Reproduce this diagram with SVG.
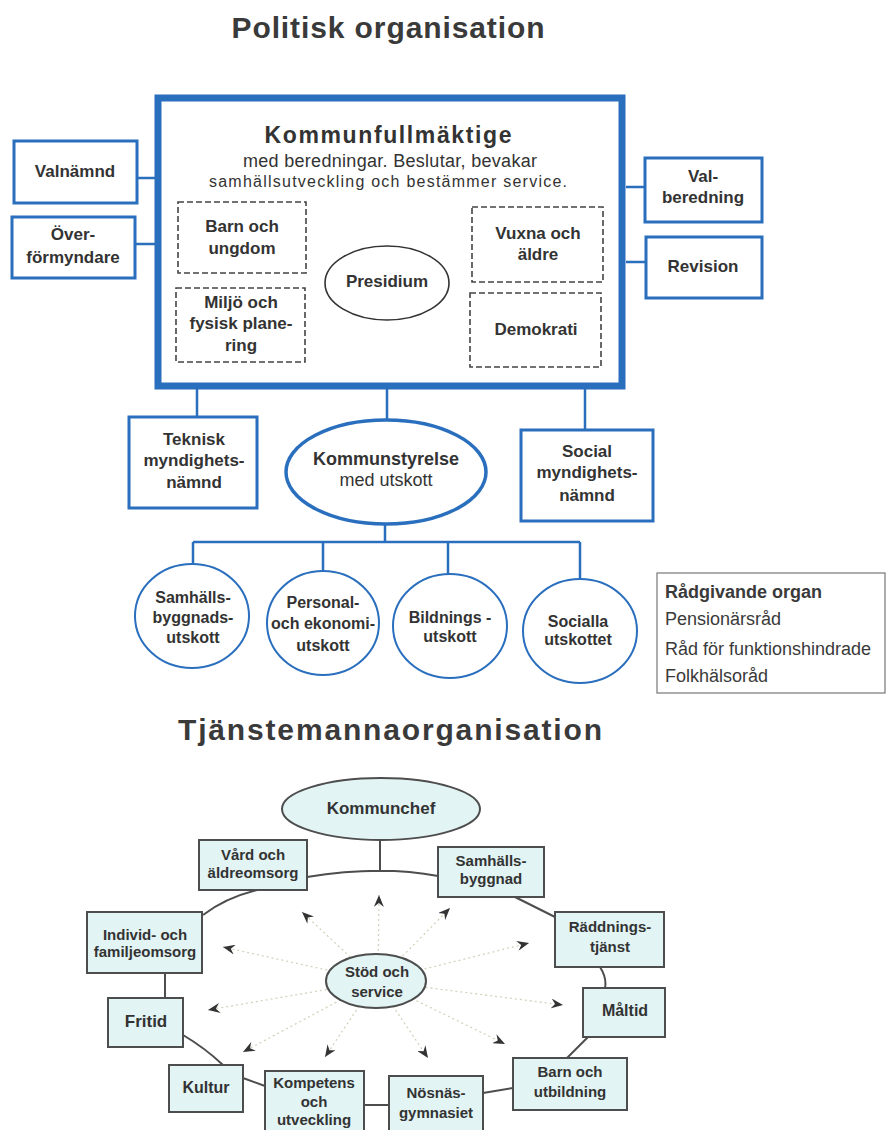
<svg xmlns="http://www.w3.org/2000/svg" width="886" height="1130" viewBox="0 0 886 1130">
<defs>
<style>
text{font-family:"Liberation Sans",Arial,sans-serif;fill:#333;text-anchor:middle}
.title{font-size:30px;font-weight:bold;fill:#3a3a3a}
.b17{font-size:17px;font-weight:bold}
.b16{font-size:16px;font-weight:bold}
.b15{font-size:15px;font-weight:bold}
.r18{font-size:18px}
.blue{fill:#fff;stroke:#2a6fbe;stroke-width:3}
.bline{fill:none;stroke:#2a6fbe;stroke-width:2.5}
.dash{fill:#fff;stroke:#444;stroke-width:1.6;stroke-dasharray:6 3}
.cbox{fill:#e2f4f4;stroke:#4d4d4d;stroke-width:2}
.ring{fill:none;stroke:#4d4d4d;stroke-width:2}
.arr{stroke:#d3d3bd;stroke-width:1.3;stroke-dasharray:2 3;marker-end:url(#ah)}
.adv{text-anchor:start;font-size:18px;fill:#3a3a3a}
</style>
<marker id="ah" markerUnits="userSpaceOnUse" markerWidth="13" markerHeight="10" refX="12" refY="5" orient="auto">
<path d="M0,0 L12,5 L0,10 L4,5 z" fill="#333"/>
</marker>
</defs>
<rect width="886" height="1130" fill="#fff"/>

<text class="title" x="388" y="38" textLength="313" lengthAdjust="spacing">Politisk organisation</text>
<text class="title" x="390" y="740" font-size="31" textLength="424" lengthAdjust="spacing">Tjänstemannaorganisation</text>

<g id="connectors">
<path class="bline" d="M137,178 H155 M135,244 H155 M626,187 H645 M626,262 H645"/>
<path class="bline" d="M197,386 V417 M387,386 V420 M585,388 V430"/>
<path class="bline" d="M385,524 V542 M193,542 H580 M193,542 V565 M323,542 V571 M448,542 V574 M580,542 V580"/>
<path class="ring" d="M380,840 V872 M307,877 Q380,865 438,876 M257,890 Q225,898 203,915 M165,973 V998 M183,1035 Q205,1048 223,1065 M243,1078 L265,1086 M364,1105 H389 M483,1093 L513,1088 M567,1058 L588,1037 M600,967 Q607,978 605,988 M555,917 L515,897"/>
<g id="arrows">
<line class="arr" x1="378" y1="981" x2="379" y2="895"/>
<line class="arr" x1="376" y1="981" x2="302" y2="912"/>
<line class="arr" x1="378" y1="981" x2="450" y2="908"/>
<line class="arr" x1="376" y1="981" x2="223" y2="947"/>
<line class="arr" x1="376" y1="981" x2="208" y2="1010"/>
<line class="arr" x1="376" y1="981" x2="243" y2="1052"/>
<line class="arr" x1="376" y1="981" x2="325" y2="1057"/>
<line class="arr" x1="376" y1="981" x2="428" y2="1058"/>
<line class="arr" x1="376" y1="981" x2="505" y2="1044"/>
<line class="arr" x1="376" y1="981" x2="563" y2="1005"/>
<line class="arr" x1="376" y1="981" x2="529" y2="943"/>
</g>
</g>

<g id="kommunfullmaktige">
<rect x="158" y="98" width="464" height="288" fill="#fff" stroke="#2a6fbe" stroke-width="7"/>
<text x="388" y="143" font-size="23" font-weight="bold" textLength="247" lengthAdjust="spacing">Kommunfullmäktige</text>
<text class="r18" x="390" y="167" textLength="294" lengthAdjust="spacing" fill="#3a3a3a">med beredningar. Beslutar, bevakar</text>
<text x="388" y="187" font-size="16" textLength="358" lengthAdjust="spacing" fill="#555">samhällsutveckling och bestämmer service.</text>
</g>
<g id="barn-ungdom"><rect class="dash" x="178" y="202" width="128" height="71"/>
<text class="b17" x="242" y="232">Barn och</text><text class="b17" x="242" y="254">ungdom</text></g>
<g id="miljo"><rect class="dash" x="176" y="288" width="129" height="74"/>
<text class="b17" x="241" y="308">Miljö och</text><text class="b17" x="241" y="329">fysisk plane-</text><text class="b17" x="241" y="351">ring</text></g>
<g id="vuxna"><rect class="dash" x="472" y="207" width="131" height="75"/>
<text class="b17" x="538" y="239">Vuxna och</text><text class="b17" x="538" y="260">äldre</text></g>
<g id="demokrati"><rect class="dash" x="470" y="293" width="131" height="74"/>
<text class="b17" x="536" y="335">Demokrati</text></g>
<g id="presidium"><ellipse cx="387" cy="283" rx="62" ry="37" fill="#fff" stroke="#333" stroke-width="1.6"/>
<text class="b17" x="387" y="287">Presidium</text></g>

<g id="valnamnd"><rect class="blue" x="14" y="141" width="123" height="62"/>
<text class="b17" x="75" y="177">Valnämnd</text></g>
<g id="overformyndare"><rect class="blue" x="12" y="217" width="123" height="61"/>
<text class="b17" x="73" y="240">Över-</text><text class="b17" x="73" y="263">förmyndare</text></g>
<g id="valberedning"><rect class="blue" x="645" y="158" width="117" height="64"/>
<text class="b17" x="703" y="182">Val-</text><text class="b17" x="703" y="203">beredning</text></g>
<g id="revision"><rect class="blue" x="646" y="237" width="116" height="61"/>
<text class="b17" x="703" y="272">Revision</text></g>

<g id="teknisk"><rect class="blue" x="129" y="417" width="128" height="91"/>
<text class="b17" x="194" y="445">Teknisk</text><text class="b17" x="194" y="466">myndighets-</text><text class="b17" x="194" y="488">nämnd</text></g>
<g id="kommunstyrelse"><ellipse cx="386" cy="472" rx="100" ry="52" fill="#fff" stroke="#2a6fbe" stroke-width="3.5"/>
<text x="386" y="465" font-size="18" font-weight="bold">Kommunstyrelse</text><text class="r18" x="386" y="486">med utskott</text></g>
<g id="social"><rect class="blue" x="521" y="430" width="132" height="91"/>
<text class="b17" x="587" y="457">Social</text><text class="b17" x="587" y="478">myndighets-</text><text class="b17" x="587" y="501">nämnd</text></g>

<g id="samhallsbyggnadsutskott"><ellipse cx="192" cy="616" rx="57" ry="52" fill="#fff" stroke="#2a6fbe" stroke-width="2"/>
<text class="b16" x="193" y="603">Samhälls-</text><text class="b16" x="193" y="623">byggnads-</text><text class="b16" x="193" y="643">utskott</text></g>
<g id="personalutskott"><ellipse cx="323" cy="623" rx="56" ry="52" fill="#fff" stroke="#2a6fbe" stroke-width="2"/>
<text class="b16" x="323" y="608">Personal-</text><text class="b16" x="323" y="629">och ekonomi-</text><text class="b16" x="323" y="651">utskott</text></g>
<g id="bildningsutskott"><ellipse cx="450" cy="626" rx="57" ry="52" fill="#fff" stroke="#2a6fbe" stroke-width="2"/>
<text class="b16" x="450" y="623">Bildnings -</text><text class="b16" x="450" y="642">utskott</text></g>
<g id="socialautskottet"><ellipse cx="580" cy="631" rx="57" ry="52" fill="#fff" stroke="#2a6fbe" stroke-width="2"/>
<text class="b16" x="578" y="627">Socialla</text><text class="b16" x="578" y="645">utskottet</text></g>

<g id="radgivande"><rect x="657" y="573" width="228" height="120" fill="#fff" stroke="#777" stroke-width="1.2"/>
<text class="adv" x="665" y="598" font-weight="bold">Rådgivande organ</text>
<text class="adv" x="665" y="625" font-size="17">Pensionärsråd</text>
<text class="adv" x="665" y="655">Råd för funktionshindrade</text>
<text class="adv" x="665" y="682">Folkhälsoråd</text></g>

<g id="kommunchef"><ellipse cx="381" cy="809" rx="99" ry="31" fill="#e2f4f4" stroke="#4d4d4d" stroke-width="2"/>
<text class="b17" x="381" y="814">Kommunchef</text></g>
<g id="stod"><ellipse cx="376" cy="981" rx="50" ry="27" fill="#e2f4f4" stroke="#4d4d4d" stroke-width="2"/>
<text class="b15" x="377" y="977">Stöd och</text><text class="b15" x="377" y="997">service</text></g>
<g id="vard"><rect class="cbox" x="199" y="840" width="108" height="50"/>
<text class="b15" x="253" y="860">Vård och</text><text class="b15" x="253" y="878">äldreomsorg</text></g>
<g id="samhallsbyggnad"><rect class="cbox" x="438" y="847" width="106" height="50"/>
<text class="b15" x="491" y="866">Samhälls-</text><text class="b15" x="491" y="884">byggnad</text></g>
<g id="individ"><rect class="cbox" x="87" y="912" width="115" height="61"/>
<text class="b15" x="145" y="940">Individ- och</text><text class="b15" x="145" y="957">familjeomsorg</text></g>
<g id="raddning"><rect class="cbox" x="555" y="912" width="109" height="55"/>
<text class="b15" x="610" y="932">Räddnings-</text><text class="b15" x="610" y="952">tjänst</text></g>
<g id="fritid"><rect class="cbox" x="108" y="998" width="75" height="49"/>
<text class="b17" x="146" y="1027">Fritid</text></g>
<g id="maltid"><rect class="cbox" x="583" y="988" width="82" height="49"/>
<text class="b16" x="625" y="1016">Måltid</text></g>
<g id="kultur"><rect class="cbox" x="169" y="1065" width="74" height="47"/>
<text class="b16" x="206" y="1093">Kultur</text></g>
<g id="kompetens"><rect class="cbox" x="265" y="1071" width="99" height="65"/>
<text class="b15" x="314" y="1088">Kompetens</text><text class="b15" x="314" y="1107">och</text><text class="b15" x="314" y="1125">utveckling</text></g>
<g id="nosnas"><rect class="cbox" x="389" y="1076" width="94" height="60"/>
<text class="b15" x="436" y="1098">Nösnäs-</text><text class="b15" x="436" y="1118">gymnasiet</text></g>
<g id="barn-utbildning"><rect class="cbox" x="513" y="1058" width="114" height="52"/>
<text class="b15" x="570" y="1077">Barn och</text><text class="b15" x="570" y="1097">utbildning</text></g>
</svg>
